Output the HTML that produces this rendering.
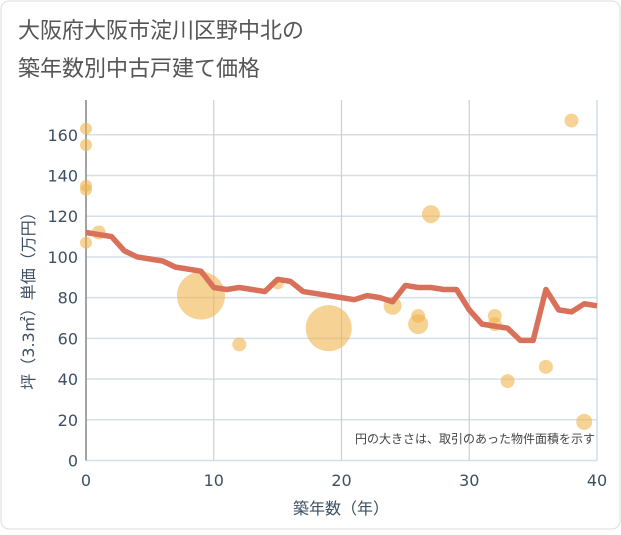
<!DOCTYPE html>
<html><head><meta charset="utf-8"><style>
body{margin:0;background:#fff;}
svg text{font-family:"DejaVu Sans","Noto Sans CJK JP",sans-serif;}
</style></head><body>
<svg width="621" height="530" viewBox="0 0 621 530">
<rect x="1" y="1" width="619" height="528" rx="8" fill="#fff" stroke="#ddd"/>
<text x="18" y="38" font-size="22" fill="#555">大阪府大阪市淀川区野中北の</text>
<text x="18" y="76" font-size="22" fill="#555">築年数別中古戸建て価格</text>
<g id="grid"></g>
<g id="axes"></g>
<g id="bubbles"></g>
<g id="line"></g>
<text x="595" y="443" font-size="12" fill="#444" text-anchor="end">円の大きさは、取引のあった物件面積を示す</text>
<text x="341" y="514" font-size="16" fill="#3d4f63" text-anchor="middle">築年数（年）</text>
<text transform="translate(34,297) rotate(-90)" font-size="16" fill="#3d4f63" text-anchor="middle">坪（3.3㎡）単価（万円）</text>
</svg>
<script>
const xTicks=[0,10,20,30,40];
const yTicks=[0,20,40,60,80,100,120,140,160];
const lineYears=[0,1,2,3,4,5,6,7,8,9,10,11,12,13,14,15,16,17,18,19,20,21,22,23,24,25,26,27,28,29,30,31,32,33,34,35,36,37,38,39,40];
const lineValues=[112,111,110,103,100,99,98,95,94,93,85,84,85,84,83,89,88,83,82,81,80,79,81,80,78,86,85,85,84,84,74,67,66,65,59,59,84,74,73,77,76];
const bubbleYears=[0,0,0,0,0,1,9,12,15,19,24,26,26,27,32,32,33,36,38,39];
const bubbleValues=[163,155,135,133,107,112,81,57,87,65,76,71,67,121,71,67,39,46,167,19];
const bubbleRadii=[6,6,6,6,6,7,24,7,6,23,9,7,10,9,7,7,7,7,7,8];
const NS="http://www.w3.org/2000/svg";
const X0=86,X1=597,Y0=460.5,Y1=134.8;
const xs=v=>X0+(X1-X0)*v/40;
const ys=v=>Y0-(Y0-Y1)*v/160;
function mk(t,a,p){const e=document.createElementNS(NS,t);for(const k in a)e.setAttribute(k,a[k]);p.appendChild(e);return e;}
const grid=document.getElementById('grid'),axes=document.getElementById('axes');
yTicks.forEach(t=>{
 const l=mk('line',{x1:X0,x2:X1,y1:ys(t),y2:ys(t),stroke:'#d6dfe8','stroke-width':1.5},grid);
 
 
 const tx=mk('text',{x:X0-8,y:ys(t)+6,'font-size':16,fill:'#3d4f63','text-anchor':'end'},axes);
 tx.textContent=t;
 
 
});
xTicks.forEach(t=>{
 const l=mk('line',{x1:xs(t),x2:xs(t),y1:100,y2:Y0,stroke:'#c5d2df','stroke-width':1.2},grid);
 
 
 const tx=mk('text',{x:xs(t),y:486,'font-size':16,fill:'#3d4f63','text-anchor':'middle'},axes);
 tx.textContent=t;
 
 
});
const ax=mk('line',{x1:X0,x2:X0,y1:100,y2:Y0,stroke:'#888','stroke-width':1.5},axes);


const bg=document.getElementById('bubbles');
bubbleYears.forEach((yr,i)=>{
 const c=mk('circle',{cx:xs(yr),cy:ys(bubbleValues[i]),r:bubbleRadii[i],fill:'#f0b44f','fill-opacity':0.6},bg);
 
 
});
const pts=lineYears.map((yr,i)=>xs(yr)+','+ys(lineValues[i])).join(' ');
const pl=mk('polyline',{points:pts,fill:'none',stroke:'#d9705a','stroke-width':5.5,'stroke-linejoin':'round'},document.getElementById('line'));


</script>
</body></html>
